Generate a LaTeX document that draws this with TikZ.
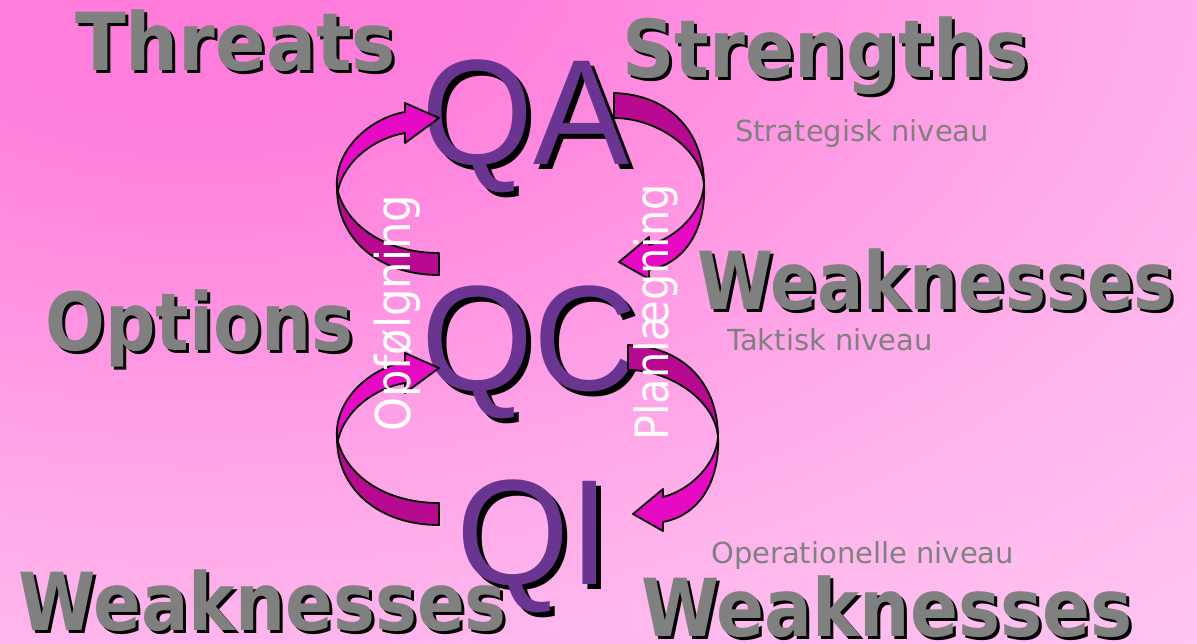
\documentclass[tikz,border=0pt]{standalone}
\usepackage{fontspec}
\usepackage{graphicx}
\setmainfont{DejaVu Sans}
\newfontfamily\arialf{Liberation Sans}
\newfontfamily\tahf{DejaVu Sans}
\definecolor{bgA}{RGB}{255,122,218}
\definecolor{bgB}{RGB}{255,127,220}
\definecolor{bgC}{RGB}{255,160,230}
\definecolor{bgD}{RGB}{255,183,236}
\definecolor{bgE}{RGB}{255,198,241}
\definecolor{bgF}{RGB}{255,208,244}
\definecolor{bgG}{RGB}{255,212,245}
\definecolor{wgray}{RGB}{128,128,128}
\definecolor{qpurple}{RGB}{106,53,145}
\definecolor{arrowdark}{RGB}{184,10,144}
\definecolor{arrowbright}{RGB}{230,10,196}
\pgfdeclareradialshading{bgshade}{\pgfpoint{0bp}{0bp}}{color(0bp)=(bgA); color(6bp)=(bgB); color(15bp)=(bgC); color(22bp)=(bgD); color(30bp)=(bgE); color(40bp)=(bgF); color(50bp)=(bgG)}
\tikzset{
  bigword/.style={anchor=base west, inner sep=0pt, text=wgray, font=\tahf\bfseries\fontsize{80}{80}\selectfont},
  bigwordshadow/.style={bigword, text=black},
  qword/.style={anchor=base west, inner sep=0pt, text=qpurple, font=\arialf\fontsize{150}{150}\selectfont},
  qwordshadow/.style={qword, text=black},
  smalltext/.style={anchor=base west, inner sep=0pt, text=wgray, font=\tahf\fontsize{29}{29}\selectfont},
  whitetext/.style={anchor=base west, inner sep=0pt, text=white, rotate=90, font=\tahf\fontsize{48}{48}\selectfont},
  darkpart/.style={fill=arrowdark, draw=black, line width=1.8pt, line join=round},
  brightpart/.style={fill=arrowbright, draw=black, line width=1.8pt, line join=round},
}
\newcommand\swd[7]{%
  \node[#7shadow] (#1s) at (#2+#6,#3+#6) {\scalebox{#4}[1]{#5}};
  \node[#7] (#1) at (#2,#3) {\scalebox{#4}[1]{#5}};}
\begin{document}
\begin{tikzpicture}[x=1pt,y=-1pt]
\useasboundingbox (0,0) rectangle (1197,644);
\begin{scope}
\clip (0,0) rectangle (1197,644);
\shade[shading=bgshade] (-1100,-850) rectangle (1500,750);
\end{scope}
% big gray words
\swd{threats}{75}{71}{0.93}{Threats}{3}{bigword}
\swd{strengths}{622}{78}{0.91}{Strengths}{3}{bigword}
\swd{weakmid}{697}{310}{0.86}{Weaknesses}{3}{bigword}
\swd{options}{45}{350}{0.88}{Options}{3}{bigword}
\swd{weakbl}{18}{630}{0.88}{Weaknesses}{3}{bigword}
\swd{weakbr}{641}{636}{0.885}{Weaknesses}{3}{bigword}
% QA QC QI
\swd{qa}{421}{165}{0.96}{QA}{5}{qword}
\swd{qc}{421}{390}{0.96}{QC}{5}{qword}
\swd{qi}{456}{584}{0.97}{QI}{5}{qword}
% left arrows (Opfoelgning)
\foreach \dy in {0,250}{
\begin{scope}[yshift=-\dy pt]
\path[darkpart] (439,253) .. controls (385,253) and (345,225) .. (337,188)
  .. controls (337,240) and (380,275) .. (439,275) -- cycle;
\path[brightpart] (337,188) .. controls (334,150) and (370,118) .. (405,112)
  -- (405,103) -- (439,118) -- (405,143) -- (405,133)
  .. controls (375,138) and (345,160) .. (338,190) -- cycle;
\end{scope}}
% right arrows (Planlaegning)
\foreach \dx/\dy in {-14/-252,0/0}{
\begin{scope}[shift={(\dx,\dy)}]
\path[darkpart] (628,345) .. controls (685,347) and (718,385) .. (718,437)
  .. controls (715,400) and (670,370) .. (628,370) -- cycle;
\path[brightpart] (718,437) .. controls (720,480) and (700,515) .. (663,522)
  -- (663,531) -- (633,514) -- (663,489) -- (663,497)
  .. controls (690,490) and (716,465) .. (718,437) -- cycle;
\end{scope}}
% small labels
\node[smalltext] (strat) at (735,142) {Strategisk niveau};
\node[smalltext] (takt) at (727,350) {Taktisk niveau};
\node[smalltext] (oper) at (711,563) {Operationelle niveau};
% white rotated labels
\node[whitetext] (opf) at (410,432) {\scalebox{0.9}[1]{Opfølgning}};
\node[whitetext, font=\tahf\fontsize{46}{46}\selectfont] (plan) at (668,441) {\scalebox{0.9}[1]{Planlægning}};
\end{tikzpicture}
\end{document}
